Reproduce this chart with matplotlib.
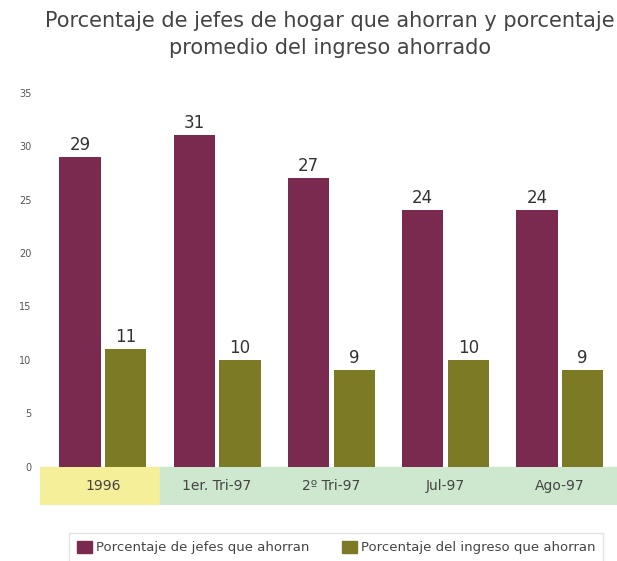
import numpy as np
import matplotlib.pyplot as plt
from matplotlib.patches import Rectangle

categories = ['1996', '1er. Tri-97', '2º Tri-97', 'Jul-97', 'Ago-97']
jefes = [29, 31, 27, 24, 24]
ingreso = [11, 10, 9, 10, 9]
yticks = [0, 5, 10, 15, 20, 25, 30, 35]

maroon = '#7b2a4f'
olive = '#7d7a25'

fig = plt.figure(figsize=(6.17, 5.61), dpi=100)
ax = fig.add_axes([40 / 617, 1 - 505 / 561, 577 / 617, 423 / 561])

x = np.arange(len(categories))
w = 0.36
ax.bar(x - 0.2, jefes, w, color=maroon, zorder=2)
ax.bar(x + 0.2, ingreso, w, color=olive, zorder=2)

for xi, v in zip(x, jefes):
    ax.text(xi - 0.2, v + 0.3, str(v), ha='center', va='bottom',
            fontsize=12, color='#333333')
for xi, v in zip(x, ingreso):
    ax.text(xi + 0.2, v + 0.3, str(v), ha='center', va='bottom',
            fontsize=12, color='#333333')

# category band under the bars
x0, x1 = -0.55, 4.5
band_lo = -3.6
ax.add_patch(Rectangle((x0, band_lo), 0.5 - x0, -band_lo, color='#f5ef9a', zorder=1))
ax.add_patch(Rectangle((0.5, band_lo), x1 - 0.5, -band_lo, color='#cde8cf', zorder=1))
for xi, c in zip(x, categories):
    ax.text(xi, band_lo / 2, c, ha='center', va='center', fontsize=10,
            color='#444444')

ax.set_xlim(x0, x1)
ax.set_ylim(band_lo, 36)
ax.set_yticks(yticks)
ax.set_xticks([])
ax.tick_params(axis='y', length=0, labelsize=7, labelcolor='#555555', pad=6)
for s in ax.spines.values():
    s.set_visible(False)

fig.text(0.535, 0.98, 'Porcentaje de jefes de hogar que ahorran y porcentaje\npromedio del ingreso ahorrado',
         ha='center', va='top', fontsize=15, color='#444444', linespacing=1.45)

leg = fig.legend(handles=[Rectangle((0, 0), 1, 1, color=maroon), Rectangle((0, 0), 1, 1, color=olive)],
                 labels=['Porcentaje de jefes que ahorran', 'Porcentaje del ingreso que ahorran'],
                 loc='upper center', bbox_to_anchor=(0.545, 1 - 526 / 561), ncol=2, frameon=True,
                 fancybox=False, edgecolor='#dddddd', handlelength=1.1, handleheight=1.1,
                 handletextpad=0.3, columnspacing=2.5, borderpad=0.6,
                 prop={'size': 9.5})
for t in leg.get_texts():
    t.set_color('#444444')

fig.savefig('out.png', dpi=100)
